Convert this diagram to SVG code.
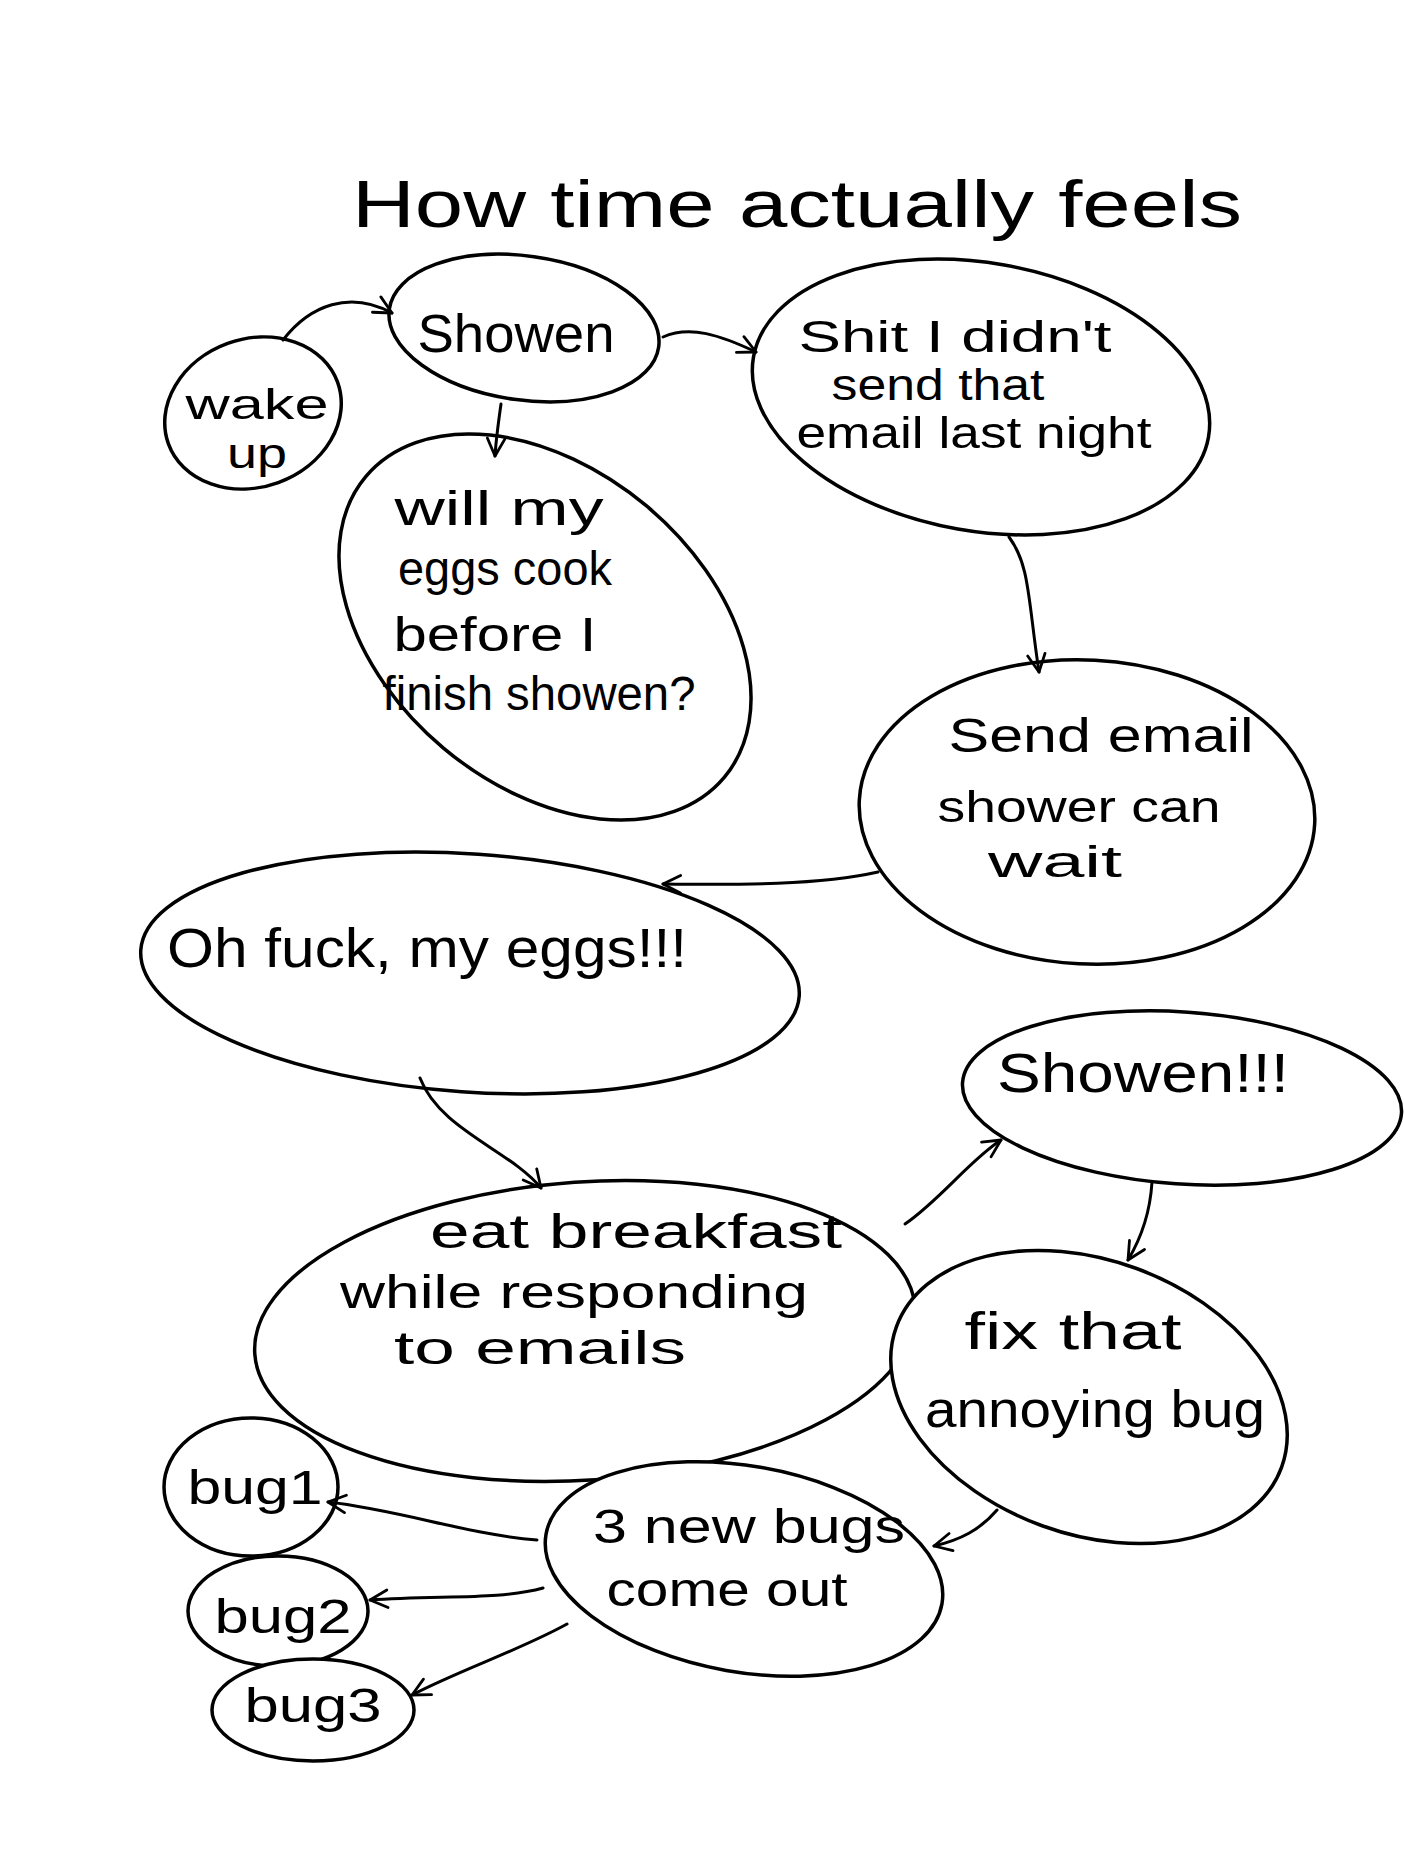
<svg xmlns="http://www.w3.org/2000/svg" width="1404" height="1872" viewBox="0 0 1404 1872">
<defs>
<marker id="arr" viewBox="0 0 12 12" refX="11" refY="6" markerWidth="7" markerHeight="7" markerUnits="strokeWidth" orient="auto">
<path d="M1,1 L11,6 L1,11" fill="none" stroke="#000" stroke-width="1.6" stroke-linecap="round" stroke-linejoin="round"/>
</marker>
</defs>
<style>
.n{fill:#fff;stroke:#000;stroke-width:3.5}
.t{font-family:"Liberation Sans","DejaVu Sans",sans-serif;fill:#000;text-anchor:middle}
.e{fill:none;stroke:#000;stroke-width:3;stroke-linecap:round;marker-end:url(#arr)}
</style>
<rect width="1404" height="1872" fill="#fff"/>
<text class="t" x="797" y="227" font-size="66" textLength="890" lengthAdjust="spacingAndGlyphs">How time actually feels</text>

<g id="n-wake">
<ellipse class="n" cx="253" cy="413" rx="90" ry="74" transform="rotate(-20 253 413)"/>
<text class="t" x="257" y="419" font-size="42" textLength="143" lengthAdjust="spacingAndGlyphs">wake</text>
<text class="t" x="257" y="468" font-size="42" textLength="60" lengthAdjust="spacingAndGlyphs">up</text>
</g>
<g id="n-shower1">
<ellipse class="n" cx="524" cy="328" rx="136" ry="72" transform="rotate(8 524 328)"/>
<text class="t" x="516" y="352" font-size="54" textLength="197" lengthAdjust="spacingAndGlyphs">Showen</text>
</g>
<g id="n-shit">
<ellipse class="n" cx="981" cy="397" rx="231" ry="134" transform="rotate(10 981 397)"/>
<text class="t" x="955" y="352" font-size="44" textLength="313" lengthAdjust="spacingAndGlyphs">Shit I didn't</text>
<text class="t" x="938" y="400" font-size="44" textLength="213" lengthAdjust="spacingAndGlyphs">send that</text>
<text class="t" x="974" y="448" font-size="44" textLength="355" lengthAdjust="spacingAndGlyphs">email last night</text>
</g>
<g id="n-eggs">
<ellipse class="n" cx="545" cy="627" rx="234" ry="158" transform="rotate(40 545 627)"/>
<text class="t" x="499" y="525" font-size="48" textLength="209" lengthAdjust="spacingAndGlyphs">will my</text>
<text class="t" x="505" y="585" font-size="48" textLength="214" lengthAdjust="spacingAndGlyphs">eggs cook</text>
<text class="t" x="495" y="651" font-size="48" textLength="203" lengthAdjust="spacingAndGlyphs">before I</text>
<text class="t" x="539" y="710" font-size="48" textLength="313" lengthAdjust="spacingAndGlyphs">finish showen?</text>
</g>
<g id="n-send">
<ellipse class="n" cx="1087" cy="812" rx="228" ry="152" transform="rotate(3 1087 812)"/>
<text class="t" x="1101" y="752" font-size="48" textLength="305" lengthAdjust="spacingAndGlyphs">Send email</text>
<text class="t" x="1079" y="822" font-size="44" textLength="283" lengthAdjust="spacingAndGlyphs">shower can</text>
<text class="t" x="1055" y="877" font-size="44" textLength="134" lengthAdjust="spacingAndGlyphs">wait</text>
</g>
<g id="n-ohfuck">
<ellipse class="n" cx="470" cy="973" rx="330" ry="119" transform="rotate(4 470 973)"/>
<text class="t" x="427" y="967" font-size="56" textLength="520" lengthAdjust="spacingAndGlyphs">Oh fuck, my eggs!!!</text>
</g>
<g id="n-shower2">
<ellipse class="n" cx="1182" cy="1098" rx="220" ry="86" transform="rotate(4 1182 1098)"/>
<text class="t" x="1143" y="1092" font-size="56" textLength="292" lengthAdjust="spacingAndGlyphs">Showen!!!</text>
</g>
<g id="n-breakfast">
<ellipse class="n" cx="585" cy="1331" rx="331" ry="149" transform="rotate(-4 585 1331)"/>
<text class="t" x="636" y="1248" font-size="48" textLength="412" lengthAdjust="spacingAndGlyphs">eat breakfast</text>
<text class="t" x="574" y="1308" font-size="46" textLength="468" lengthAdjust="spacingAndGlyphs">while responding</text>
<text class="t" x="540" y="1364" font-size="46" textLength="292" lengthAdjust="spacingAndGlyphs">to emails</text>
</g>
<g id="n-fix">
<ellipse class="n" cx="1089" cy="1397" rx="205" ry="137" transform="rotate(20 1089 1397)"/>
<text class="t" x="1073" y="1349" font-size="52" textLength="217" lengthAdjust="spacingAndGlyphs">fix that</text>
<text class="t" x="1095" y="1427" font-size="52" textLength="340" lengthAdjust="spacingAndGlyphs">annoying bug</text>
</g>
<g id="n-newbugs">
<ellipse class="n" cx="744" cy="1569" rx="201" ry="103" transform="rotate(10 744 1569)"/>
<text class="t" x="749" y="1543" font-size="48" textLength="312" lengthAdjust="spacingAndGlyphs">3 new bugs</text>
<text class="t" x="727" y="1606" font-size="48" textLength="241" lengthAdjust="spacingAndGlyphs">come out</text>
</g>
<g id="n-bug1">
<ellipse class="n" cx="251" cy="1487" rx="87" ry="69"/>
<text class="t" x="255" y="1504" font-size="48" textLength="135" lengthAdjust="spacingAndGlyphs">bug1</text>
</g>
<g id="n-bug2">
<ellipse class="n" cx="278" cy="1611" rx="90" ry="55"/>
<text class="t" x="283" y="1633" font-size="48" textLength="137" lengthAdjust="spacingAndGlyphs">bug2</text>
</g>
<g id="n-bug3">
<ellipse class="n" cx="313" cy="1710" rx="101" ry="51"/>
<text class="t" x="313" y="1722" font-size="48" textLength="137" lengthAdjust="spacingAndGlyphs">bug3</text>
</g>

<g id="connectors">
<path class="e" d="M283,340 C310,305 350,290 392,313"/>
<path class="e" d="M663,337 C690,325 720,335 756,352"/>
<path class="e" d="M501,404 C498,425 496,440 495,456"/>
<path class="e" d="M1009,537 C1030,565 1028,600 1039,672"/>
<path class="e" d="M878,872 C820,885 740,885 663,884"/>
<path class="e" d="M420,1078 C440,1130 510,1150 541,1188"/>
<path class="e" d="M905,1224 C940,1200 970,1160 1001,1140"/>
<path class="e" d="M1152,1182 C1150,1215 1140,1240 1128,1260"/>
<path class="e" d="M997,1510 C980,1530 960,1540 934,1546"/>
<path class="e" d="M537,1540 C470,1535 400,1510 328,1502"/>
<path class="e" d="M543,1588 C500,1600 440,1595 370,1600"/>
<path class="e" d="M567,1624 C520,1650 460,1670 412,1695"/>
</g>
</svg>
